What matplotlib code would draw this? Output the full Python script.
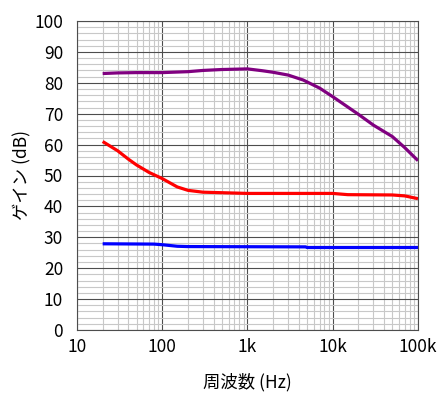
import numpy as np
import matplotlib.pyplot as plt
from matplotlib.ticker import FixedLocator, NullFormatter

plt.rcParams['font.family'] = ['Noto Sans CJK JP', 'DejaVu Sans']

# Data
purple_f = [20, 30, 50, 100, 200, 300, 500, 1000, 1500, 2000, 3000, 4500, 7000, 10000,
            20000, 30000, 50000, 70000, 100000]
purple_db = [83.0, 83.2, 83.3, 83.3, 83.6, 84.0, 84.3, 84.5, 83.9, 83.4, 82.5, 80.9, 78.3, 75.5,
             69.8, 66.3, 62.6, 59.0, 54.8]

red_f = [20, 30, 40, 50, 70, 100, 150, 200, 300, 1000, 10000, 15000, 50000, 70000, 100000]
red_db = [61.0, 58.0, 55.3, 53.4, 51.0, 49.0, 46.3, 45.2, 44.6, 44.2, 44.2, 43.8, 43.7, 43.4, 42.5]

blue_f = [20, 80, 100, 150, 200, 4800, 5000, 100000]
blue_db = [27.9, 27.8, 27.6, 27.1, 27.0, 26.9, 26.7, 26.7]

xticks = [10, 100, 1000, 10000, 100000]
xtick_labels = ['10', '100', '1k', '10k', '100k']

fig = plt.figure(figsize=(4.45, 3.97), dpi=100)
ax = fig.add_axes([77/445, 1 - 330/397, 341/445, 309/397])

ax.plot(purple_f, purple_db, color='#800080', lw=2.3, solid_capstyle='butt')
ax.plot(red_f, red_db, color='#ff0000', lw=2.3, solid_capstyle='butt')
ax.plot(blue_f, blue_db, color='#0000ff', lw=2.3, solid_capstyle='butt')

ax.set_xscale('log')
ax.set_xlim(10, 100000)
ax.set_ylim(0, 100)
ax.set_xticks(xticks)
ax.set_xticklabels(xtick_labels)
ax.xaxis.set_minor_locator(FixedLocator([m * 10**e for e in range(1, 5) for m in range(2, 10)]))
ax.xaxis.set_minor_formatter(NullFormatter())
ax.set_yticks(np.arange(0, 101, 10))
ax.set_yticks(np.arange(0, 101, 2), minor=True)

ax.grid(which='major', color='#4d4d4d', lw=0.8)
ax.grid(which='minor', color='#c8c8c8', lw=0.8)
ax.set_axisbelow(True)
ax.tick_params(which='both', length=0, labelsize=12.5)
ax.tick_params(axis='y', pad=10)
ax.tick_params(axis='x', pad=6)
for s in ax.spines.values():
    s.set_color('#4d4d4d')
    s.set_linewidth(0.8)

ax.set_xlabel('周波数 (Hz)', fontsize=12.5, labelpad=12)
ax.set_ylabel('ゲイン (dB)', fontsize=12.5, labelpad=2)

fig.savefig('out.png', dpi=100)
